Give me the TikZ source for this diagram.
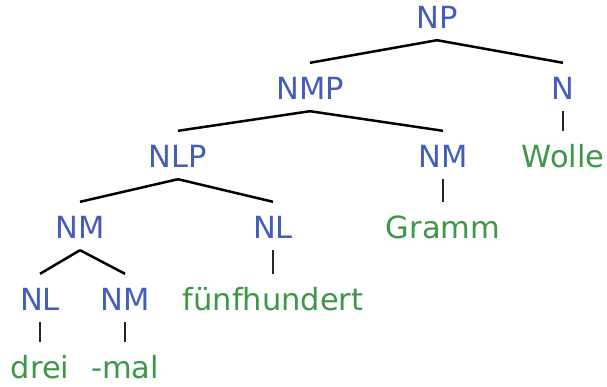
\documentclass[tikz,border=0pt]{standalone}
\usepackage{fontspec}
\setmainfont{DejaVu Sans}
\definecolor{catblue}{RGB}{68,94,184}
\definecolor{wordgreen}{RGB}{62,150,72}
\begin{document}
\begin{tikzpicture}[x=1pt,y=-1pt,
  cat/.style={text=catblue,font=\fontsize{30.5}{32}\selectfont,inner sep=0pt,text height=21pt,text depth=0pt},
  word/.style={text=wordgreen,font=\fontsize{30.5}{32}\selectfont,inner sep=0pt,text height=21pt,text depth=0pt},
  branch/.style={line width=2.5pt,black},
  stem/.style={line width=1.7pt,black!85}]
\useasboundingbox (0,0) rectangle (607,386);
\node[cat] (np) at (437,18) {NP};
\node[cat] (nmp) at (310,89) {NMP};
\node[cat] (n) at (563,89) {N};
\node[cat] (nlp) at (178,157) {NLP};
\node[cat] (nmg) at (443,157) {NM};
\node[word] (wolle) at (563,157) {Wolle};
\node[cat] (nml) at (80,228) {NM};
\node[cat] (nlr) at (273,228) {NL};
\node[word] (gramm) at (443,228) {Gramm};
\node[cat] (nld) at (40,300) {NL};
\node[cat] (nmm) at (125,300) {NM};
\node[word] (fuenf) at (273,300) {fünfhundert};
\node[word] (drei) at (40,368) {drei};
\node[word] (mal) at (125,368) {-mal};
\draw[branch] ([yshift=-11.5pt]np.south) -- ([yshift=15.5pt]nmp.north);
\draw[branch] ([yshift=-11.5pt]np.south) -- ([yshift=15.5pt]n.north);
\draw[branch] ([yshift=-11.5pt]nmp.south) -- ([yshift=15.5pt]nlp.north);
\draw[branch] ([yshift=-11.5pt]nmp.south) -- ([yshift=15.5pt]nmg.north);
\draw[branch] ([yshift=-11.5pt]nlp.south) -- ([yshift=15.5pt]nml.north);
\draw[branch] ([yshift=-11.5pt]nlp.south) -- ([yshift=15.5pt]nlr.north);
\draw[branch] ([yshift=-11.5pt]nml.south) -- ([yshift=15.5pt]nld.north);
\draw[branch] ([yshift=-11.5pt]nml.south) -- ([yshift=15.5pt]nmm.north);
\draw[stem] ([yshift=-11.5pt]n.south) -- ([yshift=15.5pt]wolle.north);
\draw[stem] ([yshift=-11.5pt]nmg.south) -- ([yshift=15.5pt]gramm.north);
\draw[stem] ([yshift=-11.5pt]nlr.south) -- ([yshift=15.5pt]fuenf.north);
\draw[stem] ([yshift=-11.5pt]nld.south) -- ([yshift=15.5pt]drei.north);
\draw[stem] ([yshift=-11.5pt]nmm.south) -- ([yshift=15.5pt]mal.north);
\end{tikzpicture}
\end{document}
